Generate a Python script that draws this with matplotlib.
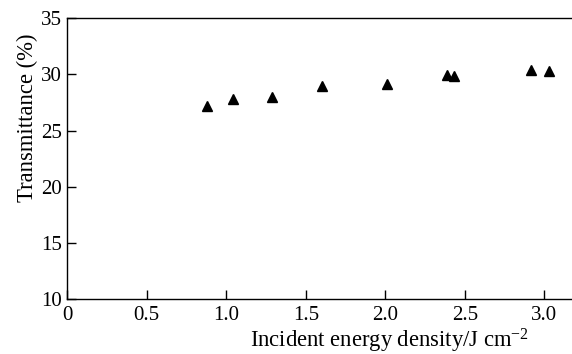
import numpy as np
import matplotlib.pyplot as plt

plt.rcParams['font.family'] = ['Liberation Serif', 'DejaVu Serif']
plt.rcParams['mathtext.fontset'] = 'custom'
plt.rcParams['mathtext.rm'] = 'Liberation Serif'
plt.rcParams['mathtext.default'] = 'regular'

# dane
energia = [0.88, 1.04, 1.29, 1.60, 2.01, 2.39, 2.43, 2.92, 3.03]
transmitancja = [27.15, 27.85, 27.95, 29.0, 29.15, 29.95, 29.85, 30.4, 30.3]

x_ticks = [0, 0.5, 1.0, 1.5, 2.0, 2.5, 3.0]
x_tick_labels = ['0', '0.5', '1.0', '1.5', '2.0', '2.5', '3.0']
y_ticks = [10, 15, 20, 25, 30, 35]

fig = plt.figure(figsize=(5.72, 3.54), dpi=100)
ax = fig.add_axes([0.1177, 0.1554, 0.8823, 0.7929])

ax.plot(energia, transmitancja, '^', color='black', markersize=7.5)

ax.set_xlim(0, 3.175)
ax.set_ylim(10, 35)
ax.set_xticks(x_ticks)
ax.set_xticklabels(x_tick_labels)
ax.set_yticks(y_ticks)
ax.tick_params(direction='in', length=6.5, width=1, labelsize=15)
ax.tick_params(axis='x', top=False, pad=5)
ax.tick_params(axis='y', right=False, pad=4)
ax.spines['right'].set_visible(False)
for s in ['left', 'bottom', 'top']:
    ax.spines[s].set_linewidth(1.0)

ax.set_xlabel('Incident energy density/J cm$^{-2}$', fontsize=16.3)
ax.xaxis.set_label_coords(0.639, -0.1)
ax.set_ylabel('Transmittance (%)', fontsize=16.3)
ax.yaxis.set_label_coords(-0.058, 0.645)

plt.savefig('out.png', dpi=100)
